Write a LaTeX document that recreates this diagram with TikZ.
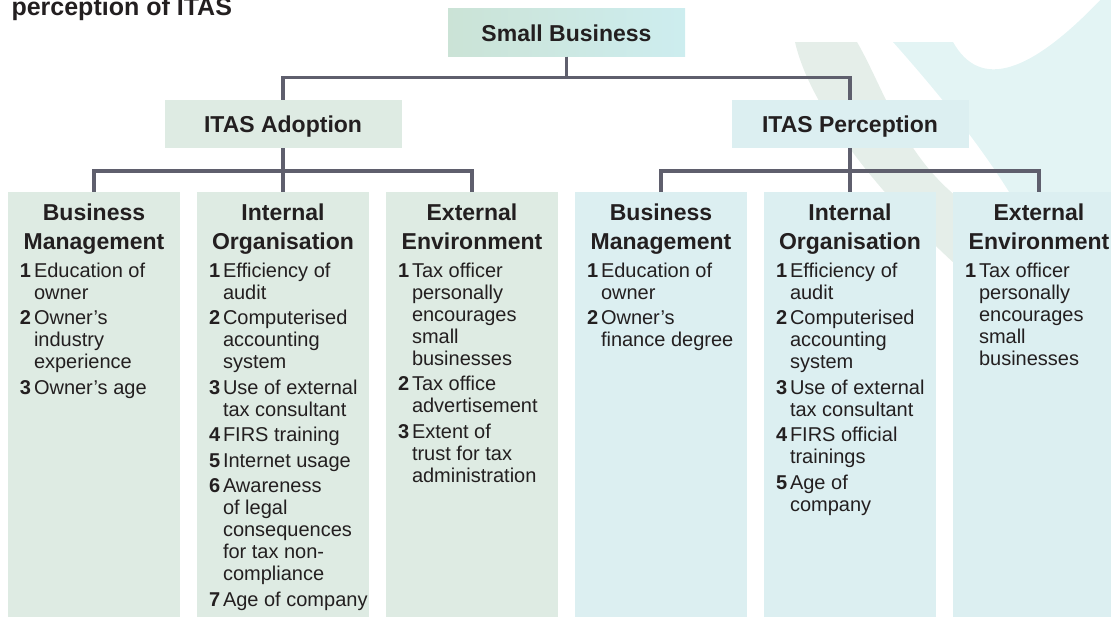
\documentclass[tikz,border=0pt]{standalone}
\usepackage{fontspec}
\setmainfont{Liberation Sans}
\usepackage{xcolor}
\usepackage{tikz}

\definecolor{ink}{HTML}{231F20}
\definecolor{linkgray}{HTML}{5F5F6D}
\definecolor{greenbox}{HTML}{DEEBE3}
\definecolor{cyanbox}{HTML}{DCEFF1}
\definecolor{sbgreen}{HTML}{CBE3D6}
\definecolor{sbcyan}{HTML}{CDEDEF}
\definecolor{wmgreen}{HTML}{E5EEE9}
\definecolor{wmcyan}{HTML}{E3F4F4}

\newcommand{\itm}[2]{\par\vspace{3.5pt}\hangindent=14pt\hangafter=1\noindent\makebox[14pt][l]{\bfseries #1}#2}
\newcommand{\colbox}[2]{\parbox[t][430pt][t]{172pt}{\centering\bfseries\fontsize{23}{29}\selectfont\rule{0pt}{28pt}#1\par\vspace{2.5pt}\let\\\newline\leftskip=12pt\rightskip=0pt plus 1fil\mdseries\fontsize{20}{22}\selectfont #2\par}}

\begin{document}
\begin{tikzpicture}[x=1pt, y=-1pt, every node/.style={text=ink},
  head/.style={minimum width=237pt, minimum height=48pt, inner sep=0pt, text height=17pt, text depth=0pt, font=\bfseries\fontsize{23}{28}\selectfont},
  col/.style={anchor=north, inner sep=0pt},
  link/.style={draw=linkgray, line width=3.5pt, line join=miter}]
\useasboundingbox (0,0) rectangle (1111,616);
\clip (0,0) rectangle (1111,616);

\fill[wmgreen] (795,42) -- (857,42) .. controls (885,90) and (905,165) .. (975,210) -- (1010,310) .. controls (930,250) and (815,130) .. (795,42) -- cycle;
\fill[wmcyan] (893,42) -- (953,42) .. controls (980,90) and (1030,75) .. (1105,-5) -- (1115,-5) -- (1115,620) -- (1070,620) -- (1020,210) .. controls (985,150) and (940,95) .. (893,42) -- cycle;

\node[anchor=base west, font=\bfseries\fontsize{25}{30}\selectfont] (title) at (8,15) {perception of ITAS};

\node[head, left color=sbgreen, right color=sbcyan] (small) at (566.5,32.5) {Small Business};
\node[head, fill=greenbox] (adopt) at (283,124) {ITAS Adoption};
\node[head, fill=cyanbox] (percep) at (850,124) {ITAS Perception};

\node[col, fill=greenbox] (amgmt) at (94,192) {\colbox{Business\\Management}{%
  \itm{1}{Education of\\owner}
  \itm{2}{Owner’s\\industry\\experience}
  \itm{3}{Owner’s age}}};
\node[col, fill=greenbox] (aorg) at (283,192) {\colbox{Internal\\Organisation}{%
  \itm{1}{Efficiency of\\audit}
  \itm{2}{Computerised\\accounting\\system}
  \itm{3}{Use of external\\tax consultant}
  \itm{4}{FIRS training}
  \itm{5}{Internet usage}
  \itm{6}{Awareness\\of legal\\consequences\\for tax non-\\compliance}
  \itm{7}{Age of company}}};
\node[col, fill=greenbox] (aenv) at (472,192) {\colbox{External\\Environment}{%
  \itm{1}{Tax officer\\personally\\encourages\\small\\businesses}
  \itm{2}{Tax office\\advertisement}
  \itm{3}{Extent of\\trust for tax\\administration}}};
\node[col, fill=cyanbox] (pmgmt) at (661,192) {\colbox{Business\\Management}{%
  \itm{1}{Education of\\owner}
  \itm{2}{Owner’s\\finance degree}}};
\node[col, fill=cyanbox] (porg) at (850,192) {\colbox{Internal\\Organisation}{%
  \itm{1}{Efficiency of\\audit}
  \itm{2}{Computerised\\accounting\\system}
  \itm{3}{Use of external\\tax consultant}
  \itm{4}{FIRS official\\trainings}
  \itm{5}{Age of\\company}}};
\node[col, fill=cyanbox] (penv) at (1039,192) {\colbox{External\\Environment}{%
  \itm{1}{Tax officer\\personally\\encourages\\small\\businesses}}};

\draw[link] (small.south) -- ++(0,21) -| (adopt.north);
\draw[link] (small.south) -- ++(0,21) -| (percep.north);
\draw[link] (adopt.south) -- ++(0,23) -| (amgmt.north);
\draw[link] (adopt.south) -- (aorg.north);
\draw[link] (adopt.south) -- ++(0,23) -| (aenv.north);
\draw[link] (percep.south) -- ++(0,23) -| (pmgmt.north);
\draw[link] (percep.south) -- (porg.north);
\draw[link] (percep.south) -- ++(0,23) -| (penv.north);
\end{tikzpicture}
\end{document}
